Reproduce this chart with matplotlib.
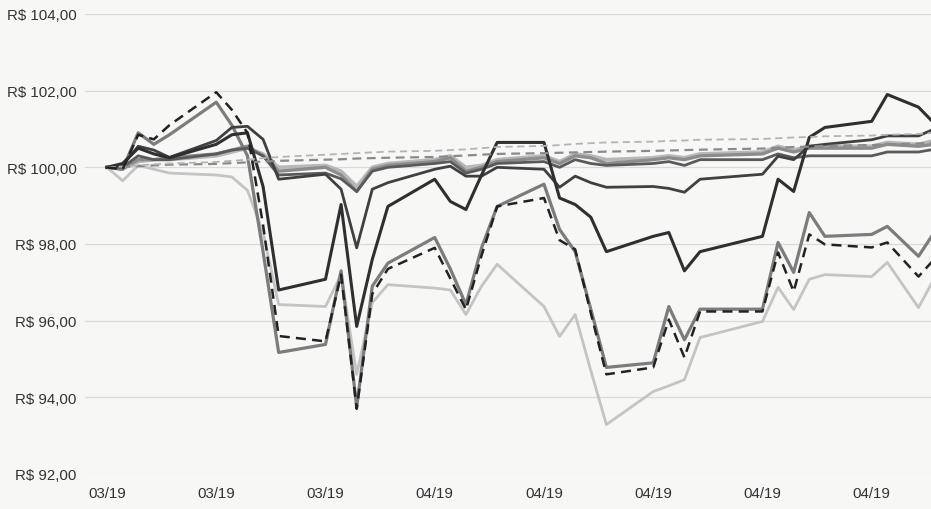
import numpy as np
import pandas as pd
import matplotlib
matplotlib.use("Agg")
import matplotlib.pyplot as plt
import matplotlib.dates as mdates
from matplotlib.ticker import FuncFormatter

# --- data ---
dates = pd.to_datetime([
    "2019-03-11", "2019-03-12", "2019-03-13", "2019-03-14", "2019-03-15",
    "2019-03-18", "2019-03-19", "2019-03-20", "2019-03-21", "2019-03-22",
    "2019-03-25", "2019-03-26", "2019-03-27", "2019-03-28", "2019-03-29",
    "2019-04-01", "2019-04-02", "2019-04-03", "2019-04-04", "2019-04-05",
    "2019-04-08", "2019-04-09", "2019-04-10", "2019-04-11", "2019-04-12",
    "2019-04-15", "2019-04-16", "2019-04-17", "2019-04-18",
    "2019-04-22", "2019-04-23", "2019-04-24", "2019-04-25", "2019-04-26",
    "2019-04-29", "2019-04-30", "2019-05-02", "2019-05-03",
])

bench_top = [100.00, 100.02, 100.05, 100.08, 100.10, 100.14, 100.17, 100.20, 100.24, 100.27,
             100.33, 100.35, 100.37, 100.39, 100.41, 100.43, 100.45, 100.47, 100.50, 100.53,
             100.56, 100.58, 100.61, 100.63, 100.65, 100.67, 100.69, 100.70, 100.72,
             100.74, 100.76, 100.78, 100.79, 100.81, 100.83, 100.85, 100.87, 100.90]
bench_mid = [100.00, 100.01, 100.03, 100.05, 100.07, 100.09, 100.11, 100.13, 100.15, 100.17,
             100.20, 100.21, 100.23, 100.24, 100.25, 100.27, 100.29, 100.31, 100.33, 100.35,
             100.37, 100.38, 100.39, 100.40, 100.41, 100.43, 100.44, 100.45, 100.46,
             100.49, 100.51, 100.53, 100.54, 100.56, 100.58, 100.60, 100.62, 100.65]
fund_a = [100.00, 100.10, 100.50, 100.35, 100.25, 100.60, 100.85, 100.90, 99.50, 96.80,
          97.08, 99.03, 95.85, 97.60, 98.98, 99.69, 99.11, 98.90, 99.80, 100.65,
          100.65, 99.20, 99.03, 98.70, 97.80, 98.20, 98.30, 97.30, 97.80,
          98.20, 99.69, 99.37, 100.78, 101.04, 101.20, 101.90, 101.57, 101.15]
fund_y = [100.00, 100.05, 100.55, 100.45, 100.26, 100.70, 101.04, 101.07, 100.73, 99.69,
          99.82, 99.43, 97.90, 99.43, 99.60, 99.95, 100.03, 99.77, 99.77, 100.00,
          99.95, 99.48, 99.77, 99.60, 99.48, 99.50, 99.45, 99.35, 99.69,
          99.82, 100.29, 100.20, 100.55, 100.60, 100.72, 100.82, 100.82, 101.00]
fund_b = [100.00, 100.00, 100.30, 100.20, 100.20, 100.35, 100.45, 100.50, 100.30, 99.80,
          99.85, 99.70, 99.37, 99.90, 100.00, 100.10, 100.15, 99.85, 99.95, 100.10,
          100.15, 100.00, 100.20, 100.10, 100.05, 100.10, 100.15, 100.05, 100.20,
          100.20, 100.35, 100.25, 100.30, 100.30, 100.30, 100.40, 100.40, 100.47]
fund_c = [100.00, 99.95, 100.20, 100.20, 100.25, 100.35, 100.45, 100.55, 100.30, 99.90,
          100.00, 99.80, 99.37, 99.95, 100.05, 100.15, 100.25, 99.90, 100.00, 100.15,
          100.25, 100.10, 100.30, 100.25, 100.10, 100.20, 100.25, 100.20, 100.30,
          100.35, 100.50, 100.40, 100.50, 100.50, 100.50, 100.60, 100.55, 100.60]
fund_d = [100.00, 100.00, 100.15, 100.20, 100.20, 100.30, 100.40, 100.50, 100.35, 100.00,
          100.05, 99.90, 99.50, 100.00, 100.10, 100.20, 100.30, 100.00, 100.05, 100.20,
          100.30, 100.15, 100.35, 100.30, 100.20, 100.25, 100.30, 100.25, 100.35,
          100.40, 100.55, 100.45, 100.55, 100.55, 100.55, 100.65, 100.60, 100.70]
fund_e = [100.00, 99.95, 100.90, 100.60, 100.85, 101.70, 101.10, 100.30, 97.80, 95.17,
          95.38, 97.30, 93.75, 96.90, 97.50, 98.17, 97.35, 96.42, 97.90, 98.98,
          99.56, 98.38, 97.80, 96.30, 94.78, 94.90, 96.37, 95.50, 96.30,
          96.30, 98.04, 97.26, 98.82, 98.20, 98.25, 98.46, 97.68, 98.30]
fund_f = [100.00, 99.95, 100.85, 100.73, 101.10, 101.96, 101.50, 100.90, 98.50, 95.60,
          95.46, 97.20, 93.70, 96.70, 97.35, 97.90, 97.10, 96.29, 97.70, 98.98,
          99.20, 98.10, 97.86, 96.20, 94.60, 94.78, 96.03, 95.04, 96.24,
          96.24, 97.78, 96.76, 98.25, 97.99, 97.91, 98.04, 97.15, 97.60]
fund_g = [100.00, 99.65, 100.05, 99.95, 99.85, 99.80, 99.75, 99.40, 98.30, 96.42,
          96.37, 97.20, 94.60, 96.47, 96.94, 96.85, 96.80, 96.16, 96.90, 97.47,
          96.37, 95.59, 96.16, 94.70, 93.29, 94.15, 94.30, 94.46, 95.56,
          95.98, 96.87, 96.29, 97.08, 97.20, 97.15, 97.52, 96.34, 97.10]

y_ticks = [92, 94, 96, 98, 100, 102, 104]

plt.rcParams["font.family"] = ["Liberation Sans", "DejaVu Sans"]

fig = plt.figure(figsize=(9.31, 5.10), dpi=100, facecolor="#f7f7f6")
ax = fig.add_axes([85 / 931, 35 / 510, 846 / 931, 460 / 510])
ax.set_facecolor("#f7f7f6")

# light lines first, dark ones on top
ax.plot(dates, fund_g, color="#c4c4c4", lw=2.0, zorder=3)
ax.plot(dates, fund_d, color="#b8b8b8", lw=2.6, zorder=3)
ax.plot(dates, fund_c, color="#8c8c8c", lw=2.4, zorder=4)
ax.plot(dates, fund_e, color="#7c7c7c", lw=2.3, zorder=4)
ax.plot(dates, fund_b, color="#5a5a5a", lw=2.0, zorder=5)
ax.plot(dates, fund_y, color="#404040", lw=2.0, zorder=5)
ax.plot(dates, fund_a, color="#2f2f2f", lw=2.2, zorder=6)
ax.plot(dates, fund_f, color="#222222", lw=1.8, ls=(0, (4, 2.5)), zorder=7)
ax.plot(dates, bench_mid, color="#8a8a8a", lw=1.6, ls=(0, (4, 2.5)), zorder=6)
ax.plot(dates, bench_top, color="#b4b4b4", lw=1.3, ls=(0, (4, 2.5)), zorder=6)

start = pd.Timestamp("2019-03-11")
ax.set_xlim(start - pd.Timedelta(days=1.41), start + pd.Timedelta(days=52.8))
ax.set_ylim(92, 104)

ax.xaxis.set_major_locator(mdates.WeekdayLocator(byweekday=mdates.MO))
ax.xaxis.set_major_formatter(mdates.DateFormatter("%m/%y"))
ax.set_yticks(y_ticks)
ax.yaxis.set_major_formatter(FuncFormatter(lambda v, p: f"R$ {v:.2f}".replace(".", ",")))

ax.tick_params(axis="both", length=0, labelsize=10.8, colors="#333333")
ax.tick_params(axis="x", pad=9)
ax.tick_params(axis="y", pad=6)

ax.grid(axis="y", color="#dadada", lw=0.9)
ax.grid(axis="x", visible=False)
for s in ax.spines.values():
    s.set_visible(False)

fig.savefig("out.png", dpi=100, facecolor=fig.get_facecolor())
